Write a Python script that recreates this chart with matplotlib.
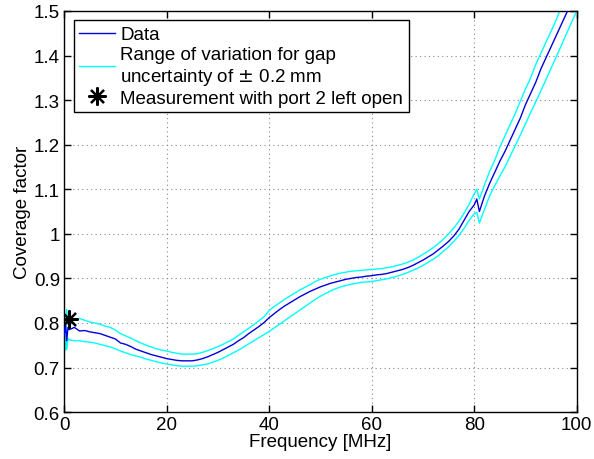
import matplotlib
matplotlib.use("Agg")
import matplotlib.pyplot as plt

plt.rcParams['font.family'] = ['Liberation Sans', 'DejaVu Sans']
plt.rcParams['font.size'] = 13.5

# frequency axis [MHz]
freq = [0, 0.25, 0.5, 0.75] + list(range(1, 81)) + [80.5] + list(range(81, 101))

# measured coverage factor
data = [0.77, 0.80, 0.76, 0.79,
        0.785, 0.79, 0.782, 0.783, 0.780, 0.778, 0.776, 0.772, 0.768, 0.764,
        0.755, 0.752, 0.747, 0.741, 0.737, 0.733, 0.729, 0.726, 0.723, 0.720,
        0.718, 0.716, 0.715, 0.715, 0.715, 0.717, 0.720, 0.724, 0.729, 0.734,
        0.740, 0.746, 0.752, 0.760, 0.767, 0.776, 0.784, 0.792, 0.801, 0.812,
        0.821, 0.830, 0.838, 0.845, 0.852, 0.859, 0.865, 0.871, 0.876, 0.881,
        0.885, 0.889, 0.892, 0.895, 0.898, 0.900, 0.902, 0.903, 0.905, 0.906,
        0.908, 0.909, 0.911, 0.914, 0.917, 0.920, 0.924, 0.929, 0.935, 0.941,
        0.948, 0.955, 0.964, 0.973, 0.983, 0.995, 1.010, 1.030, 1.050, 1.065,
        1.078,
        1.050, 1.085, 1.113, 1.138, 1.163, 1.185, 1.210, 1.235, 1.260, 1.290,
        1.315, 1.340, 1.370, 1.395, 1.420, 1.445, 1.470, 1.495, 1.520, 1.545]

# upper bound of gap uncertainty range
upper = [0.85, 0.74, 0.83, 0.80,
         0.812, 0.808, 0.810, 0.806, 0.802, 0.800, 0.797, 0.793, 0.790, 0.784,
         0.776, 0.771, 0.766, 0.760, 0.755, 0.750, 0.746, 0.742, 0.739, 0.737,
         0.734, 0.732, 0.730, 0.730, 0.730, 0.731, 0.734, 0.738, 0.742, 0.747,
         0.752, 0.758, 0.764, 0.772, 0.780, 0.788, 0.796, 0.805, 0.814, 0.828,
         0.837, 0.845, 0.853, 0.860, 0.867, 0.874, 0.880, 0.886, 0.893, 0.898,
         0.902, 0.906, 0.909, 0.912, 0.914, 0.916, 0.917, 0.918, 0.919, 0.920,
         0.921, 0.922, 0.924, 0.926, 0.929, 0.932, 0.936, 0.941, 0.947, 0.954,
         0.961, 0.969, 0.978, 0.988, 1.000, 1.013, 1.028, 1.046, 1.066, 1.090,
         1.100,
         1.078, 1.110, 1.140, 1.165, 1.195, 1.220, 1.245, 1.270, 1.298, 1.325,
         1.350, 1.380, 1.405, 1.430, 1.455, 1.480, 1.510, 1.535, 1.560, 1.590]

# lower bound of gap uncertainty range
lower = [0.72, 0.78, 0.74, 0.765,
         0.762, 0.760, 0.760, 0.758, 0.757, 0.755, 0.752, 0.749, 0.746, 0.742,
         0.737, 0.733, 0.729, 0.726, 0.723, 0.719, 0.716, 0.713, 0.710, 0.708,
         0.706, 0.704, 0.703, 0.703, 0.703, 0.704, 0.706, 0.708, 0.712, 0.716,
         0.721, 0.727, 0.733, 0.739, 0.746, 0.753, 0.760, 0.767, 0.774, 0.781,
         0.789, 0.797, 0.805, 0.813, 0.821, 0.829, 0.837, 0.845, 0.853, 0.860,
         0.866, 0.872, 0.877, 0.881, 0.884, 0.887, 0.889, 0.891, 0.892, 0.893,
         0.895, 0.897, 0.899, 0.902, 0.905, 0.909, 0.913, 0.918, 0.923, 0.929,
         0.936, 0.943, 0.951, 0.961, 0.971, 0.983, 0.996, 1.012, 1.030, 1.045,
         1.048,
         1.024, 1.055, 1.085, 1.108, 1.130, 1.150, 1.174, 1.198, 1.222, 1.247,
         1.272, 1.296, 1.321, 1.346, 1.372, 1.397, 1.423, 1.449, 1.475, 1.500]

# open-port measurement
meas_f = [1.0]
meas_v = [0.808]

fig = plt.figure(figsize=(5.94, 4.6), dpi=100)
ax = fig.add_axes([0.108, 0.102, 0.863, 0.872])

ax.plot(freq, data, color='#0000dd', lw=1.0, label='Data', zorder=3)
ax.plot(freq, upper, color='cyan', lw=1.0,
        label='Range of variation for gap\nuncertainty of $\\pm$ 0.2 mm', zorder=2)
ax.plot(freq, lower, color='cyan', lw=1.0, zorder=2)
ax.plot(meas_f, meas_v, ls='none', marker=(8, 2, 0), ms=13, mew=1.6,
        color='black', label='Measurement with port 2 left open', zorder=4)

ax.set_xlim(0, 100)
ax.set_ylim(0.6, 1.5)
ax.set_xticks([0, 20, 40, 60, 80, 100])
ax.set_yticks([0.6, 0.7, 0.8, 0.9, 1.0, 1.1, 1.2, 1.3, 1.4, 1.5])
ax.set_yticklabels(['0.6', '0.7', '0.8', '0.9', '1', '1.1', '1.2', '1.3', '1.4', '1.5'])
ax.grid(True, ls=(0, (1, 3)), color='#888888', lw=0.8)
ax.tick_params(direction='in', top=True, right=True, length=5, width=1, pad=3)
for s in ax.spines.values():
    s.set_linewidth(1.0)
ax.set_xlabel('Frequency [MHz]', labelpad=0)
ax.set_ylabel('Coverage factor', labelpad=2)

leg = ax.legend(loc='upper left', fancybox=False, edgecolor='black',
                framealpha=1, borderaxespad=0.5, handlelength=1.9,
                handletextpad=0.3, labelspacing=0.15, borderpad=0.3)
leg.get_frame().set_linewidth(1.0)

fig.savefig('out.png', dpi=100)
